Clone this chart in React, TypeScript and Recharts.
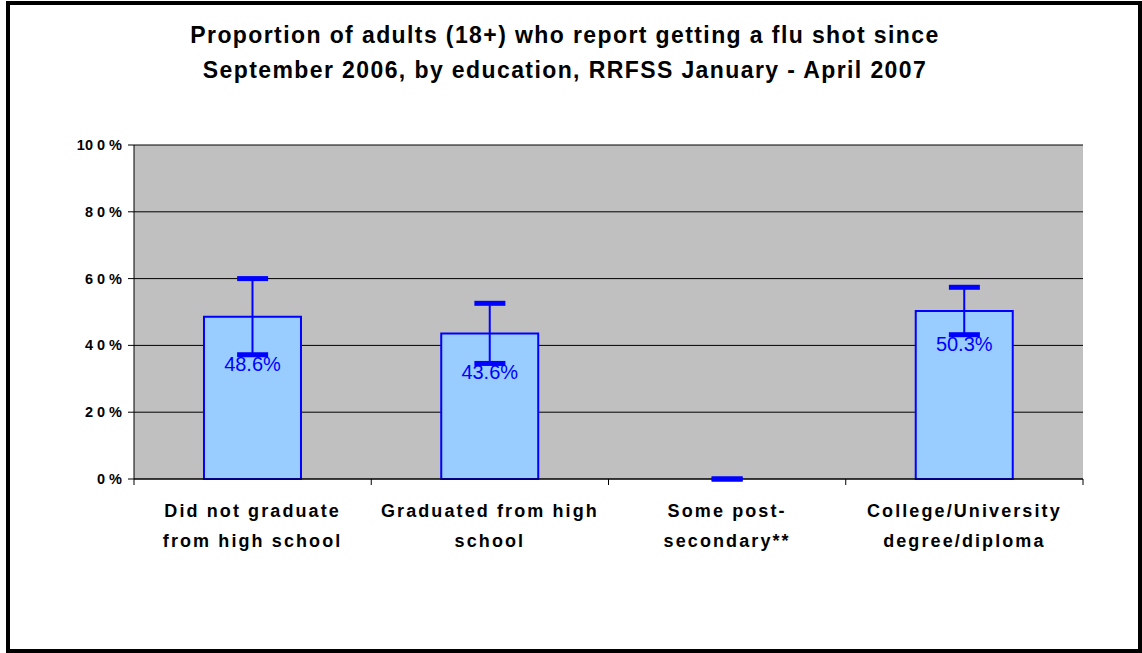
import React from 'react';
import { ComposedChart, Bar, XAxis, YAxis, CartesianGrid, ErrorBar, LabelList, Scatter } from 'recharts';

const categories = [
  'Did not graduate|from high school',
  'Graduated from high|school',
  'Some post-|secondary**',
  'College/University|degree/diploma',
];
const values = [48.6, 43.6, 0, 50.3];
const errors = [11.4, 9.0, 0, 7.1];
const yTicks = [0, 20, 40, 60, 80, 100];
const yTickLabels = ['0 %', '2 0 %', '4 0 %', '6 0 %', '8 0 %', '10 0 %'];
const titleLines = [
  'Proportion of adults (18+) who report getting a flu shot since',
  'September 2006, by education, RRFSS January - April 2007',
];

const data = categories.map((c, i) => ({
  cat: c,
  value: values[i],
  err: errors[i],
  hi: values[i] + errors[i],
  lo: values[i] - errors[i],
}));

const FONT = 'Arial, "Liberation Sans", sans-serif';
const BLUE = '#0000FF';

const XTick = (props: any) => {
  const { x, y, payload, index, width } = props;
  const band = width / categories.length;
  const lines = String(payload.value).split('|');
  return (
    <g>
      <line x1={x - band / 2} x2={x - band / 2} y1={y} y2={y + 6} stroke="#000" strokeWidth={1} />
      {index === categories.length - 1 && (
        <line x1={x + band / 2} x2={x + band / 2} y1={y} y2={y + 6} stroke="#000" strokeWidth={1} />
      )}
      {lines.map((l, i) => (
        <text
          key={i}
          x={x}
          y={y + 38 + i * 30}
          textAnchor="middle"
          fontFamily={FONT}
          fontSize={18}
          fontWeight="bold"
          letterSpacing={2.1}
          fill="#000"
        >
          {l}
        </text>
      ))}
    </g>
  );
};

const YTick = (props: any) => {
  const { x, y, payload } = props;
  const idx = yTicks.indexOf(payload.value);
  return (
    <text x={x - 4} y={y + 5} textAnchor="end" fontFamily={FONT} fontSize={14.5} fontWeight="bold" fill="#000">
      {yTickLabels[idx]}
    </text>
  );
};

const ValueLabel = (props: any) => {
  const { x, y, width, height, value } = props;
  if (!value) return null;
  const idx = values.indexOf(value);
  const lowY = y + (height * errors[idx]) / value;
  return (
    <text x={x + width / 2} y={lowY + 16} textAnchor="middle" fontFamily={FONT} fontSize={20} fill={BLUE}>
      {`${value.toFixed(1)}%`}
    </text>
  );
};

const Cap = (props: any) => {
  const { cx, cy } = props;
  if (cx == null || cy == null) return null;
  return <rect x={cx - 15.5} y={cy - 2.5} width={31} height={5} fill={BLUE} />;
};

export default function App() {
  return (
    <div style={{ position: 'absolute', left: 0, top: 0, width: 1142, height: 653, background: '#fff', overflow: 'hidden' }}>
      <div
        style={{
          position: 'absolute',
          left: 6,
          top: 1,
          width: 1136,
          height: 652,
          border: '4px solid #000',
          boxSizing: 'border-box',
        }}
      />
      <div
        style={{
          position: 'absolute',
          left: 0,
          top: 18,
          width: 1130,
          textAlign: 'center',
          fontFamily: FONT,
          fontWeight: 'bold',
          fontSize: 23,
          letterSpacing: 1.4,
          lineHeight: '35px',
          color: '#000',
        }}
      >
        {titleLines.map((t, i) => (
          <div key={i}>{t}</div>
        ))}
      </div>
      <div style={{ position: 'absolute', left: 0, top: 0 }}>
        <ComposedChart
          width={1142}
          height={653}
          data={data}
          margin={{ top: 145, right: 59, bottom: 80, left: 74 }}
          barCategoryGap="29.5%"
        >
          <CartesianGrid vertical={false} fill="#C0C0C0" stroke="#000" strokeOpacity={1} />
          <XAxis
            dataKey="cat"
            height={94}
            axisLine={{ stroke: '#000' }}
            tickLine={false}
            tickSize={0}
            tickMargin={0}
            interval={0}
            tick={<XTick />}
          />
          <YAxis
            width={60}
            domain={[0, 100]}
            ticks={yTicks}
            interval={0}
            axisLine={{ stroke: '#000' }}
            tickLine={{ stroke: '#000' }}
            tickSize={6}
            tick={<YTick />}
          />
          <Bar dataKey="value" fill="#99CCFF" stroke={BLUE} strokeWidth={2} isAnimationActive={false}>
            <ErrorBar dataKey="err" width={0} stroke={BLUE} strokeWidth={2} direction="y" />
            <LabelList dataKey="value" content={<ValueLabel />} />
          </Bar>
          <Scatter dataKey="hi" shape={<Cap />} isAnimationActive={false} legendType="none" />
          <Scatter dataKey="lo" shape={<Cap />} isAnimationActive={false} legendType="none" />
        </ComposedChart>
      </div>
    </div>
  );
}
